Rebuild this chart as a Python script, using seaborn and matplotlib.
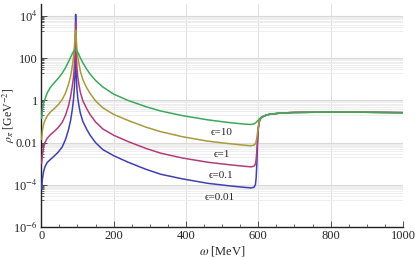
import numpy as np
import pandas as pd
import matplotlib
matplotlib.use("Agg")
import matplotlib.pyplot as plt
import seaborn as sns

# ---- data (omega in MeV, log10 of rho) ----
omega = [1, 3, 6, 10, 16, 25, 35, 47, 58, 67, 75, 81, 86, 89, 91.5, 93.5, 95,
         96.5, 98.5, 101, 104, 108, 115, 125, 135, 150, 170, 200, 240, 290, 330,
         390, 460, 520, 560, 580, 588, 592, 594, 596, 598, 600, 603, 607, 615,
         630, 660, 700, 800, 900, 1000]

log_rho_eps001 = [-4.2, -3.75, -3.4, -3.15, -2.95, -2.8, -2.65, -2.45, -2.2, -1.85,
                  -1.4, -0.95, -0.4, 0.05, 0.6, 1.4, 4.08,
                  1.3, 0.55, 0.1, -0.25, -0.6, -1.0, -1.35, -1.65, -2.0, -2.33, -2.62,
                  -2.93, -3.27, -3.5, -3.72, -3.93, -4.05, -4.12, -4.15, -4.12, -4.0,
                  -3.7, -3.0, -2.0, -1.35, -1.0, -0.85, -0.74,
                  -0.66, -0.6, -0.57, -0.55, -0.56, -0.58]

log_rho_eps01 = [-3.0, -2.6, -2.25, -2.0, -1.8, -1.63, -1.48, -1.28, -1.03, -0.7,
                 -0.27, 0.18, 0.72, 1.12, 1.65, 2.3, 3.7,
                 2.25, 1.55, 1.1, 0.75, 0.38, -0.02, -0.37, -0.67, -1.02, -1.35, -1.65,
                 -1.95, -2.28, -2.5, -2.73, -2.93, -3.05, -3.12, -3.15, -3.12, -3.02,
                 -2.8, -2.4, -1.8, -1.3, -0.98, -0.84, -0.74,
                 -0.66, -0.6, -0.57, -0.55, -0.56, -0.58]

log_rho_eps1 = [-1.85, -1.45, -1.15, -0.95, -0.75, -0.55, -0.4, -0.2, 0.05, 0.35,
                0.75, 1.15, 1.65, 2.05, 2.55, 3.05, 3.34,
                3.0, 2.45, 2.05, 1.75, 1.38, 0.98, 0.62, 0.33, -0.02, -0.35, -0.66,
                -0.95, -1.27, -1.48, -1.72, -1.93, -2.05, -2.12, -2.15, -2.12, -2.05,
                -1.95, -1.78, -1.5, -1.22, -0.98, -0.83, -0.74,
                -0.66, -0.6, -0.57, -0.55, -0.56, -0.58]

log_rho_eps10 = [-0.85, -0.45, -0.15, 0.05, 0.35, 0.62, 0.82, 1.05, 1.3, 1.55,
                 1.83, 2.05, 2.23, 2.32, 2.37, 2.39, 2.39,
                 2.37, 2.33, 2.27, 2.18, 2.02, 1.78, 1.5, 1.25, 0.95, 0.64, 0.3,
                 0.0, -0.3, -0.5, -0.72, -0.92, -1.05, -1.12, -1.14, -1.11, -1.07,
                 -1.04, -1.01, -0.97, -0.93, -0.88, -0.81, -0.73,
                 -0.66, -0.6, -0.57, -0.55, -0.56, -0.58]

series_names = ["0.01", "0.1", "1", "10"]
series_colors = ["#4040b0", "#b03d7a", "#a89a3c", "#3ca85c"]
label_text = ["\u03f5=0.01", "\u03f5=0.1", "\u03f5=1", "\u03f5=10"]
label_x = [494, 498, 498, 498]
label_logy = [-4.59, -3.54, -2.55, -1.51]

y_tick_vals = [1e-6, 1e-4, 1e-2, 1, 1e2, 1e4]
y_tick_labels = [r"10$^{-6}$", r"10$^{-4}$", "0.01", "1", "100", r"10$^{4}$"]
x_tick_vals = [0, 200, 400, 600, 800, 1000]

# ---- build long-form table ----
all_logs = [log_rho_eps001, log_rho_eps01, log_rho_eps1, log_rho_eps10]
frames = []
for name, logs in zip(series_names, all_logs):
    frames.append(pd.DataFrame({"omega": omega,
                                "rho": np.power(10.0, np.array(logs)),
                                "eps": name}))
df = pd.concat(frames, ignore_index=True)

sns.set_theme(style="white")
plt.rcParams["font.family"] = ["Liberation Serif", "DejaVu Serif"]
plt.rcParams["mathtext.fontset"] = "stix"

fig = plt.figure(figsize=(4.15, 2.57), dpi=100)
ax = fig.add_axes([0.0995, 0.117, 0.8715, 0.867])

sns.lineplot(data=df, x="omega", y="rho", hue="eps", hue_order=series_names,
             palette=series_colors, estimator=None, sort=False, linewidth=1.1,
             legend=False, ax=ax, zorder=3)

ax.set_yscale("log")
ax.set_xlim(0, 1000)
ax.set_ylim(1e-6, 10 ** 4.57)

ax.set_yticks(y_tick_vals)
ax.set_yticklabels(y_tick_labels)
minor_y = []
for d in [-5, -3, -1, 1, 3]:
    for m in range(2, 10):
        minor_y.append(m * 10.0 ** d)
ax.set_yticks(minor_y, minor=True)
ax.set_yticklabels([], minor=True)
ax.set_xticks(x_tick_vals)
ax.set_xticklabels([str(v) for v in x_tick_vals])
ax.set_xticks(np.arange(0, 1001, 50), minor=True)

# grid
ax.yaxis.grid(True, which="major", color="#d9d9d9", linewidth=0.8, zorder=0)
ax.yaxis.grid(True, which="minor", color="#ebebeb", linewidth=0.6, zorder=0)
ax.xaxis.grid(True, which="major", color="#dedede", linewidth=0.7, zorder=0)
ax.set_axisbelow(True)

for s in ["top", "right"]:
    ax.spines[s].set_visible(False)
for s in ["left", "bottom"]:
    ax.spines[s].set_color("#222222")
    ax.spines[s].set_linewidth(1.0)

ax.tick_params(axis="both", which="major", direction="in", length=4, width=0.6,
               color="#333333", labelsize=9, pad=2.5, left=True, bottom=True)
ax.tick_params(axis="both", which="minor", direction="in", length=2.3, width=0.5,
               color="#333333", left=True, bottom=True)

ax.set_xlabel(r"$\omega$ [MeV]", fontsize=9, labelpad=1)
ax.set_ylabel(r"$\rho_\pi$ [GeV$^{-2}$]", fontsize=8.5)
ax.yaxis.set_label_coords(-0.068, 0.5)

for t, lx, ly in zip(label_text, label_x, label_logy):
    ax.text(lx, 10 ** ly, t, fontsize=8, ha="center", va="center", zorder=4)

fig.savefig("out.png", dpi=100)
